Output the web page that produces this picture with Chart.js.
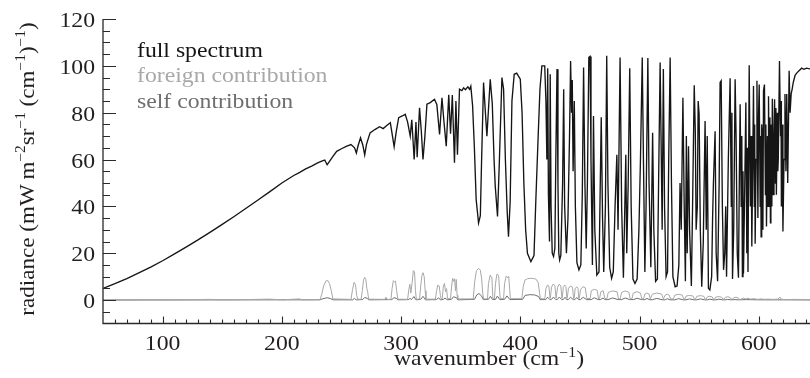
<!DOCTYPE html>
<html>
<head>
<meta charset="utf-8">
<script src="https://cdn.jsdelivr.net/npm/chart.js@4.4.0/dist/chart.umd.min.js"></script>
<style>
  html, body { margin: 0; padding: 0; background: #fff; }
  #spectrum { display: block; }
  #fontprobe { position: absolute; left: -1000px; top: 0; font-family: "Liberation Serif"; font-size: 21px; }
</style>
</head>
<body>
<canvas id="spectrum" width="810" height="378"></canvas>
<span id="fontprobe">wavenumber 0123456789</span>
<script>
// values: [wavenumber (cm-1), radiance]
const fullSpectrum = [
  [50,5.0],[60,7.0],[70,9.2],[80,11.6],[90,14.1],[100,16.8],[110,19.7],[120,22.7],[130,25.8],[140,29.0],
  [150,32.3],[160,35.7],[170,39.2],[180,42.7],[190,46.3],[200,50.0],[205,51.6],[210,53.2],[215,54.5],[220,56.0],
  [225,57.2],[230,58.6],[234,59.4],[236,59.8],[238,57.8],[240,59.2],[243,61.5],[246,63.5],[250,64.6],[254,65.6],
  [258,66.4],[261,65.0],[262.5,62.8],[264,66.0],[266,69.3],[268,66.0],[269.5,62.0],[271,66.5],[274,71.4],[278,72.8],
  [282,74.0],[285,73.2],[288,74.5],[291,75.7],[292.5,71.0],[294.2,65.5],[296,72.0],[298,77.9],[301,78.6],[303.5,79.3],
  [305.5,76.0],[307.7,70.0],[309,77.0],[311,60.0],[312.5,76.0],[313.5,61.0],[315.5,82.1],[317,72.0],[318.4,60.0],[320,70.0],
  [321.7,83.6],[324.5,84.3],[328,85.7],[330,83.5],[332.3,70.7],[334.3,86.4],[336,76.0],[337.9,65.7],[340,87.6],[341.5,71.0],
  [343,87.5],[344.8,58.6],[346,85.0],[347.3,62.0],[349,90.0],[351,89.4],[352.5,90.6],[354,89.8],[356,91.0],[357.5,90.0],
  [358.5,91.3],[360,83.0],[361.5,65.0],[363,42.9],[365,32.9],[366.5,36.0],[367.5,58.6],[369.2,92.9],[370.5,82.0],[372,70.0],
  [374.8,94.3],[376.5,84.0],[378,60.0],[379,48.6],[380.9,35.7],[382.5,60.0],[384.6,95.0],[386,90.0],[387.5,60.0],[389,38.0],
  [390.1,27.1],[391.5,42.0],[393,85.0],[394.9,96.4],[397,96.9],[400,94.3],[401.5,80.0],[403,50.0],[404.5,30.0],[406,20.0],
  [408.9,16.4],[411.5,19.0],[413,42.0],[415,70.0],[416.5,90.0],[418.1,100.0],[420.5,100.0],[421.5,85],[422.3,60],[423.0,99],
  [423.6,45],[424.5,25],[425.1,96.4],[425.8,40],[426.8,20],[427.9,18.6],[429.0,22],[429.8,60],[430.8,98.6],[431.6,50],
  [432.3,20],[433.0,17.1],[434.0,19],[435.5,50],[436.4,90],[437.2,40],[438.7,20],[440.0,35],[441.3,70],[442.2,102.1],
  [443.0,80],[443.6,94],[444.3,55],[445.3,85],[446.2,40],[447.5,16],[449.2,12.9],[450.8,15],[452.0,45],[453.1,99.3],
  [454.2,50],[455.3,22],[456.3,50],[457.5,103.6],[458.5,104],[459.3,60],[460.5,15],[461.4,78.6],[462.5,30],[464.2,10.7],
  [466.0,12],[467.9,78.0],[469.0,35],[470.0,12],[471.4,40],[472.5,104.3],[473.5,50],[475.0,14],[476.6,9.3],[478.0,12],
  [479.5,40],[481.0,62],[482.0,30],[483.7,103.6],[485.0,40],[486.5,9.5],[487.5,35],[488.5,62],[489.3,20],[490.5,50],
  [491.8,99.0],[493.0,40],[494.5,9],[496.2,7.1],[498.0,9],[499.5,30],[500.8,60],[502.3,103.6],[503.3,60],[504.5,12],
  [505.5,40],[507.0,103.3],[508.0,50],[509.5,14],[511.0,71.4],[512.0,30],[513.5,8],[515.0,9],[516.0,50],[517.3,101.4],
  [518.3,60],[519.0,30],[520.0,98.6],[521.0,40],[522.3,10],[523.5,12],[524.5,60],[525.7,103.6],[526.8,50],[528.0,10],
  [529.9,5.7],[531.5,6],[533.0,15],[534.0,50],[535.0,30],[536.4,86.4],[537.5,40],[538.5,8],[539.3,70],[540.0,20],
  [541.1,65.7],[542.0,30],[543.5,6],[544.5,40],[545.9,91.7],[546.8,72],[547.5,30],[548.5,40],[549.2,85],[550.0,79.3],
  [551.0,30],[552.2,5.7],[553.5,25],[555.0,76.4],[556.0,30],[556.8,70],[557.8,5],[559.0,4.3],[560.5,10],[561.3,35],
  [562.0,50],[563.4,72.1],[564.3,20],[565.5,8],[566.8,50],[567.6,92.9],[568.5,93.6],[569.5,40],[570.5,12.9],[571.5,20],
  [572.3,40],[573.0,10],[574.5,60],[576.0,94.7],[577.0,40],[577.5,80],[578.0,9],[579.0,30],[580.2,94.3],[581.0,70],
  [582.0,20],[583.0,9.5],[583.7,50],[584.4,83.6],[585.3,40],[585.8,70],[586.3,10],[586.8,55],[587.2,11.4],[588.3,50],
  [589.2,84.3],[590.0,20],[590.5,65],[591.0,12],[592.0,100.3],[593.0,40],[593.6,70],[594.2,22.9],[595.0,60],[595.6,91.4],
  [596.3,40],[596.6,75],[597.0,24],[597.8,60],[598.5,93.6],[599.3,35],[599.9,80],[600.4,92],[601.2,40],[601.6,70],
  [602.0,27],[602.5,75],[603.0,70],[603.5,30],[604.0,89.3],[604.8,92],[605.6,45],[606.0,75],[606.5,31.4],[607.3,70],
  [607.8,40],[608.2,87],[609.0,40],[609.4,78],[609.8,33],[610.2,70],[610.6,75],[611.0,40],[611.4,86],[612.2,45],
  [612.8,70],[613.3,85.7],[614.0,50],[614.4,82],[614.8,45],[615.6,80],[616.0,55],[616.4,60],[617.4,102.1],[618.3,70],
  [618.7,85],[619.0,40],[619.6,75],[620.3,29.3],[621.2,60],[622.0,88],[622.8,55],[623.5,88],[624.3,50],[625.5,97.9],
  [626.3,80],[627.2,88],[628.0,90],[629.0,93],[630.5,96],[632,97],[634,98],[636,99],[638,98.5],[640,99],[643,98.7]
];

const foreignContribution = [
  [50,0.1],[80,0.2],[110,0.1],[140,0.3],[150,0.1],[170,0.2],[190,0.4],[200,0.1],[215,0.5],[217,0.1],[232,0.2],
  [233.5,2.5],[235,6],[237,8.2],[238.5,8.3],[240,7],[241.5,4],[242.8,0.5],
  [258,0.3],[259.3,4.5],[260.6,7.6],[261.8,6.5],[262.8,2],[263.6,0.4],
  [266.5,0.3],[267.5,4],[268.5,8.5],[269.5,9.7],[270.5,8.8],[271.3,5],[272,3.5],[272.8,0.4],
  [286.5,0.3],[287.3,1.3],[288.2,0.3],
  [291.5,0.3],[292.5,5],[293.5,8.3],[294.5,7.8],[295.3,8.1],[296.3,4],[297.3,0.4],
  [305.5,0.3],[306.5,4.5],[307.4,6.8],[308.2,3],[309.2,7],[310.3,12.6],[311.3,12],[312.1,4],[312.8,0.4],
  [315.5,0.4],[316.5,6],[317.5,10.5],[318.4,11.7],[319.4,10],[320.2,4],[320.9,0.4],
  [328.8,0.4],[329.8,4],[330.8,6.4],[332,6],[333,2],[333.6,0.5],
  [334.5,0.5],[335.5,6],[336.4,7.1],[337.3,3.5],[338.2,4.9],[339,0.6],
  [341.5,0.6],[342.4,6],[343.3,9.3],[344.2,8],[344.9,9.1],[345.7,4],[346.3,8.8],[347,2],[347.6,0.5],
  [360.5,0.5],[361.8,8],[363.2,12.5],[365,13.6],[366.5,12.8],[367.6,9],[368.5,3],[369.2,0.5],
  [372.5,0.5],[373.3,7],[374.8,10.7],[376.2,9.5],[377,0.6],
  [378.3,0.6],[379.2,7],[380.4,11.1],[381.8,10.5],[382.8,3],[383.3,0.6],
  [386,0.6],[386.8,7],[388.2,10.3],[389.5,9.5],[390.3,10.1],[391.2,4],[391.7,0.6],
  [401.3,0.6],[402.5,6],[404,8.6],[406,9.1],[408.3,9.3],[411,9.2],[413,9],[415,7.5],[416.2,3],[416.8,0.6],
  [420.6,0.5],[421.5,5],[422.8,6.4],[424,6],[424.9,0.8],
  [425.2,0.8],[426.2,5.5],[427.5,6.8],[429,6.2],[430,0.8],
  [430.3,0.8],[431.3,5.5],[432.6,6.8],[434,6],[434.9,0.8],
  [435.2,0.8],[436,5.3],[437.2,6.4],[438.3,5.8],[439,0.8],
  [439.4,0.8],[440.4,5],[442,6],[443.8,5.5],[444.7,0.7],
  [445.2,0.7],[446,4.8],[447.3,5.7],[448.4,5],[449,0.7],
  [449.5,0.7],[450.5,4.5],[452.5,5.7],[454.5,5.3],[455.8,0.7],
  [458.6,0.6],[459.6,4],[462,4.6],[464.5,4.2],[465.6,0.6],
  [466.5,0.6],[467.5,3.5],[469.5,4],[471,0.6],
  [472.6,0.5],[473.8,3.3],[477.5,3.9],[481.2,3.5],[482.4,0.5],
  [483.8,0.5],[485,3.3],[488,3.9],[491,3.4],[492.2,0.5],
  [493.6,0.5],[494.8,3],[497.8,3.6],[500.8,3],[502,0.5],
  [503.4,0.5],[504.5,2.6],[506.2,3],[508,2.6],[509,0.5],
  [509.5,0.5],[510.8,2.5],[514.5,3],[518.5,2.6],[520,0.5],
  [520.5,0.5],[521.5,2.1],[523.2,2.5],[525,2.1],[526,0.5],
  [528.5,0.5],[529.6,2.1],[532.8,2.5],[536,2.1],[537,0.5],
  [538,0.5],[539,1.7],[542,2],[545,1.7],[546,0.4],
  [547,0.4],[548,1.6],[551,1.9],[554,1.6],[555,0.4],
  [556,0.4],[557,1.4],[559,1.6],[561,1.3],[562,0.4],
  [563,0.4],[564,1.3],[566.5,1.5],[569,1.2],[570,0.4],
  [571,0.4],[572,1.2],[574,1.4],[576,1.1],[577,0.4],
  [578,0.4],[579,1.0],[581,1.2],[583,0.9],[584,0.3],
  [585,0.3],[587,0.9],[589,0.5],[591,0.8],[593,0.4],[596,0.6],[599,0.3],[602,0.5],[605,0.3],[608,0.4],
  [612,0.3],[616,0.4],[617.8,1.3],[618.8,0.4],[622,0.2],[630,0.3],[643,0.2]
];

const selfContribution = [
  [50,0],[120,0.05],[200,0.1],[232,0.1],[234.5,0.6],[238,1.0],[241,0.6],[243,0.1],
  [259.5,0.1],[260.8,0.7],[262.5,0.1],[267.8,0.2],[269.5,1.1],[271.5,0.8],[272.8,0.1],
  [292.3,0.2],[294,1.0],[296,0.8],[297.3,0.1],
  [306.5,0.2],[307.5,0.8],[308.5,0.2],[309.5,0.6],[310.8,1.5],[312.5,0.1],
  [316.5,0.3],[318.4,1.6],[320.5,0.1],
  [329.8,0.2],[331.2,0.9],[333.3,0.1],[335.5,0.3],[336.8,0.9],[338.8,0.1],
  [342.2,0.3],[344,1.4],[346.5,1.0],[347.5,0.1],
  [361.5,0.3],[363.5,2.2],[365.3,2.8],[367.5,1.8],[369,0.2],
  [373.3,0.3],[375,1.6],[376.8,0.2],
  [379.2,0.3],[380.8,1.7],[382.8,0.2],
  [386.8,0.3],[388.8,1.8],[391.3,0.2],
  [402,0.3],[404,2],[408,2.3],[412,2.2],[415.5,1.5],[416.6,0.2],
  [421.3,0.2],[423,1.2],[424.8,0.2],[426,0.2],[427.8,1.3],[429.8,0.2],[431,0.2],[432.8,1.3],[434.8,0.2],
  [436,0.2],[437.5,1.2],[438.9,0.2],[440.2,0.2],[442.2,1.2],[444.5,0.2],[445.8,0.2],[447.4,1.1],[448.9,0.2],
  [450.4,0.2],[452.8,1.2],[455.5,0.2],[459.5,0.2],[462,1.0],[465.3,0.2],[467.3,0.2],[469.5,0.9],[470.8,0.2],
  [473.5,0.2],[477.5,0.9],[482,0.2],[485,0.2],[488,0.9],[491.8,0.2],[495,0.2],[498,0.8],[501.6,0.2],
  [504.5,0.2],[506.3,0.7],[508.7,0.1],[511,0.2],[514.5,0.7],[519.6,0.1],[521.5,0.1],[523.2,0.6],[525.6,0.1],
  [529.6,0.1],[532.8,0.6],[536.6,0.1],[539,0.1],[542,0.5],[545.6,0.1],[548,0.1],[551,0.5],[554.6,0.1],
  [557,0.1],[559,0.4],[561.6,0.1],[564,0.1],[566.5,0.4],[569.6,0.1],[572,0.1],[574,0.3],[576.6,0.1],
  [580,0.2],[583,0.1],[590,0.2],[600,0.1],[620,0.1],[643,0.05]
];

const seriesNames = ["full spectrum", "foreign contribution", "self contribution"];
const seriesColors = ["#151515", "#a8a8a8", "#6e6e6e"];
const xTicks = [100, 200, 300, 400, 500, 600];
const yTicks = [0, 20, 40, 60, 80, 100, 120];

const FONT = '"Liberation Serif"';
const TEXT_STRETCH = 1.13;

function toPoints(list) {
  return list.map((p) => ({ x: p[0], y: p[1] }));
}

// draws a run of text pieces, some raised as superscripts
function drawRich(ctx, parts, x, y, align, size, sx) {
  let total = 0;
  parts.forEach((p) => {
    ctx.font = (p.sup ? Math.round(size * 0.68) : size) + "px " + FONT;
    p.w = ctx.measureText(p.t).width;
    total += p.w;
  });
  ctx.save();
  ctx.translate(x, y);
  ctx.scale(sx, 1);
  let cx = align === "center" ? -total / 2 : align === "right" ? -total : 0;
  ctx.textAlign = "left";
  ctx.textBaseline = "alphabetic";
  parts.forEach((p) => {
    ctx.font = (p.sup ? Math.round(size * 0.68) : size) + "px " + FONT;
    ctx.fillText(p.t, cx, p.sup ? -size * 0.4 : 0);
    cx += p.w;
  });
  ctx.restore();
  return total;
}

const axesPlugin = {
  id: "axesPlugin",
  afterDraw(chart) {
    const ctx = chart.ctx;
    const xs = chart.scales.x;
    const ys = chart.scales.y;
    const area = chart.chartArea;
    ctx.save();
    ctx.strokeStyle = "#2a2a2a";
    ctx.lineWidth = 1.3;
    ctx.beginPath();
    ctx.moveTo(area.left, ys.getPixelForValue(120));
    ctx.lineTo(area.left, area.bottom);
    ctx.lineTo(area.right, area.bottom);
    ctx.stroke();

    // y ticks, pointing inward
    ctx.lineWidth = 1.1;
    ctx.beginPath();
    for (let v = -5; v <= 120; v += 5) {
      const py = Math.round(ys.getPixelForValue(v)) + 0.5;
      const len = v % 20 === 0 ? 13 : 7;
      ctx.moveTo(area.left, py);
      ctx.lineTo(area.left + len, py);
    }
    // x ticks
    for (let w = 60; w <= 640; w += 10) {
      const px = Math.round(xs.getPixelForValue(w)) + 0.5;
      const len = w % 100 === 0 ? 7 : 4;
      ctx.moveTo(px, area.bottom);
      ctx.lineTo(px, area.bottom - len);
    }
    ctx.stroke();

    ctx.fillStyle = "#231f20";
    yTicks.forEach((v) => {
      drawRich(ctx, [{ t: String(v) }], area.left - 8, ys.getPixelForValue(v) + 8, "right", 21, TEXT_STRETCH);
    });
    xTicks.forEach((w) => {
      drawRich(ctx, [{ t: String(w) }], xs.getPixelForValue(w), 350, "center", 21, TEXT_STRETCH);
    });

    // axis titles
    drawRich(ctx, [{ t: "wavenumber (cm" }, { t: "\u22121", sup: true }, { t: ")" }], 489, 365, "center", 21, TEXT_STRETCH);

    const yTitle = [
      { t: "radiance (mW\u2009m" }, { t: "\u22122", sup: true }, { t: "sr" }, { t: "\u22121", sup: true },
      { t: " (cm" }, { t: "\u22121", sup: true }, { t: ")" }, { t: "\u22121", sup: true }, { t: ")" }
    ];
    ctx.save();
    ctx.translate(33.5, 169);
    ctx.rotate(-Math.PI / 2);
    drawRich(ctx, yTitle, 0, 0, "center", 21, 1.1);
    ctx.restore();

    // legend as plain coloured text
    const baselines = [56.7, 82.3, 108.3];
    seriesNames.forEach((name, i) => {
      ctx.fillStyle = seriesColors[i];
      drawRich(ctx, [{ t: name }], 137, baselines[i], "left", 21, TEXT_STRETCH);
    });
    ctx.restore();
  }
};

function drawChart() {
  const ctx = document.getElementById("spectrum").getContext("2d");
  const seriesData = [fullSpectrum, foreignContribution, selfContribution];
  new Chart(ctx, {
    type: "line",
    data: {
      datasets: seriesData.map((list, i) => ({
        label: seriesNames[i],
        data: toPoints(list),
        borderColor: seriesColors[i],
        borderWidth: i === 0 ? 1.35 : 1,
        pointRadius: 0,
        tension: 0,
        fill: false
      }))
    },
    options: {
      responsive: false,
      animation: false,
      devicePixelRatio: 1,
      layout: { padding: { top: 19, right: 0, left: 0, bottom: 0 } },
      plugins: { legend: { display: false }, tooltip: { enabled: false } },
      scales: {
        x: {
          type: "linear", min: 50, max: 643,
          ticks: { display: false }, grid: { display: false }, border: { display: false },
          afterFit(scale) { scale.height = 54.5; }
        },
        y: {
          min: -10, max: 120,
          ticks: { display: false }, grid: { display: false }, border: { display: false },
          afterFit(scale) { scale.width = 103; }
        }
      }
    },
    plugins: [axesPlugin]
  });
}

// make sure the serif face is ready before the canvas text is drawn
document.fonts.load('21px "Liberation Serif"').then(drawChart, drawChart);
</script>
</body>
</html>
